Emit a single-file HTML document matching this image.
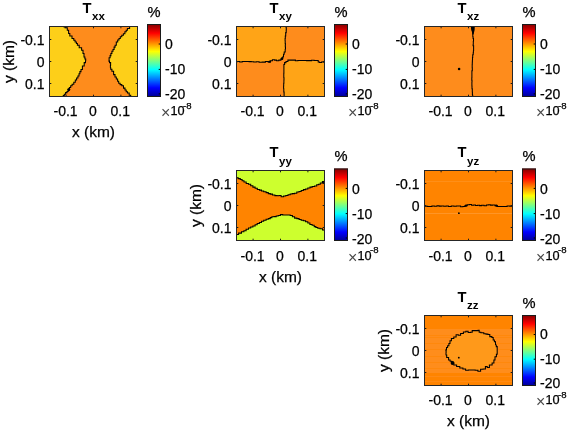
<!DOCTYPE html>
<html><head><meta charset="utf-8"><title>T components</title>
<style>html,body{margin:0;padding:0;background:#fff}body{width:568px;height:431px;position:relative;overflow:hidden}</style>
</head><body>
<svg width="568" height="431" viewBox="0 0 568 431" style="position:absolute;left:0;top:0" font-family="Liberation Sans, Arial, sans-serif"><style>text{stroke:#000;stroke-width:0.25px;paint-order:stroke}text.n{stroke:none}</style><defs><linearGradient id="jet" x1="0" y1="1" x2="0" y2="0"><stop offset="0" stop-color="#00008f"/><stop offset="0.125" stop-color="#0000ff"/><stop offset="0.375" stop-color="#00ffff"/><stop offset="0.625" stop-color="#ffff00"/><stop offset="0.875" stop-color="#ff0000"/><stop offset="1" stop-color="#800000"/></linearGradient></defs><clipPath id="c0"><rect x="49" y="26" width="89" height="71"/></clipPath><g clip-path="url(#c0)"><rect x="49" y="26" width="89" height="71" fill="#fdcf19"/><polygon points="63.6,26.0 63.6,26.0 63.6,26.8 63.6,26.8 65.0,26.8 65.0,27.7 66.5,27.7 67.3,27.7 67.3,30.2 68.2,30.2 68.6,30.2 68.6,33.5 69.0,33.5 69.8,33.5 69.8,36.0 70.7,36.0 72.0,36.0 72.0,38.5 73.2,38.5 73.8,38.5 73.8,40.2 74.4,40.2 75.1,40.2 75.1,41.9 75.7,41.9 76.4,41.9 76.4,43.5 77.0,43.5 77.4,43.5 77.4,45.2 77.8,45.2 79.2,45.2 79.2,47.7 80.7,47.7 81.6,47.7 81.6,50.2 82.4,50.2 83.0,50.2 83.0,53.5 83.6,53.5 84.0,53.5 84.0,56.9 84.5,56.9 84.9,56.9 84.9,59.0 85.3,59.0 85.7,59.0 85.7,61.0 86.1,61.0 85.5,61.0 85.5,62.6 85.0,62.6 84.2,62.6 84.2,66.0 83.3,66.0 82.4,66.0 82.4,69.4 81.6,69.4 81.0,69.4 81.0,71.6 80.4,71.6 79.9,71.6 79.9,73.7 79.5,73.7 79.0,73.7 79.0,76.0 78.5,76.0 77.9,76.0 77.9,78.0 77.3,78.0 76.6,78.0 76.6,80.0 75.8,80.0 75.3,80.0 75.3,82.3 74.8,82.3 73.8,82.3 73.8,84.2 72.8,84.2 72.1,84.2 72.1,85.8 71.3,85.8 70.7,85.8 70.7,87.4 70.1,87.4 69.4,87.4 69.4,89.6 68.7,89.6 68.2,89.6 68.2,91.4 67.7,91.4 67.0,91.4 67.0,92.6 66.2,92.6 65.6,92.6 65.6,94.2 65.0,94.2 64.3,94.2 64.3,95.6 63.6,95.6 63.3,95.6 63.3,97.0 63.0,97.0 131.0,97.0 130.7,97.0 130.7,95.2 130.3,95.2 129.2,95.2 129.2,93.0 128.2,93.0 127.5,93.0 127.5,91.7 126.8,91.7 126.2,91.7 126.2,90.0 125.6,90.0 125.0,90.0 125.0,88.1 124.4,88.1 123.5,88.1 123.5,85.8 122.6,85.8 121.8,85.8 121.8,84.6 121.1,84.6 120.1,84.6 120.1,83.2 119.2,83.2 118.7,83.2 118.7,81.2 118.3,81.2 117.6,81.2 117.6,78.9 117.0,78.9 116.3,78.9 116.3,77.0 115.5,77.0 115.0,77.0 115.0,74.6 114.5,74.6 113.6,74.6 113.6,71.2 112.7,71.2 111.9,71.2 111.9,69.3 111.2,69.3 110.7,69.3 110.7,67.7 110.2,67.7 110.4,67.7 110.4,65.2 110.6,65.2 110.6,65.2 110.6,62.6 110.6,62.6 109.5,62.6 109.5,61.1 108.4,61.1 109.1,61.1 109.1,57.7 109.7,57.7 110.1,57.7 110.1,55.6 110.4,55.6 110.9,55.6 110.9,53.5 111.4,53.5 111.9,53.5 111.9,51.3 112.5,51.3 113.0,51.3 113.0,49.4 113.5,49.4 114.1,49.4 114.1,47.1 114.6,47.1 115.1,47.1 115.1,45.2 115.5,45.2 116.3,45.2 116.3,41.9 117.2,41.9 117.7,41.9 117.7,40.0 118.2,40.0 119.0,40.0 119.0,38.5 119.7,38.5 120.3,38.5 120.3,36.7 121.0,36.7 121.8,36.7 121.8,35.2 122.6,35.2 123.4,35.2 123.4,33.7 124.2,33.7 124.9,33.7 124.9,31.8 125.6,31.8 126.2,31.8 126.2,30.3 126.7,30.3 127.4,30.3 127.4,28.5 128.1,28.5 129.6,28.5 129.6,26.4 131.0,26.4 131.2,26.4 131.2,26.0 131.5,26.0" fill="#fe8c1c"/><polyline points="63.6,26.0 63.6,26.0 63.6,26.8 63.6,26.8 65.0,26.8 65.0,27.7 66.5,27.7 67.3,27.7 67.3,30.2 68.2,30.2 68.6,30.2 68.6,33.5 69.0,33.5 69.8,33.5 69.8,36.0 70.7,36.0 72.0,36.0 72.0,38.5 73.2,38.5 73.8,38.5 73.8,40.2 74.4,40.2 75.1,40.2 75.1,41.9 75.7,41.9 76.4,41.9 76.4,43.5 77.0,43.5 77.4,43.5 77.4,45.2 77.8,45.2 79.2,45.2 79.2,47.7 80.7,47.7 81.6,47.7 81.6,50.2 82.4,50.2 83.0,50.2 83.0,53.5 83.6,53.5 84.0,53.5 84.0,56.9 84.5,56.9 84.9,56.9 84.9,59.0 85.3,59.0 85.7,59.0 85.7,61.0 86.1,61.0 85.5,61.0 85.5,62.6 85.0,62.6 84.2,62.6 84.2,66.0 83.3,66.0 82.4,66.0 82.4,69.4 81.6,69.4 81.0,69.4 81.0,71.6 80.4,71.6 79.9,71.6 79.9,73.7 79.5,73.7 79.0,73.7 79.0,76.0 78.5,76.0 77.9,76.0 77.9,78.0 77.3,78.0 76.6,78.0 76.6,80.0 75.8,80.0 75.3,80.0 75.3,82.3 74.8,82.3 73.8,82.3 73.8,84.2 72.8,84.2 72.1,84.2 72.1,85.8 71.3,85.8 70.7,85.8 70.7,87.4 70.1,87.4 69.4,87.4 69.4,89.6 68.7,89.6 68.2,89.6 68.2,91.4 67.7,91.4 67.0,91.4 67.0,92.6 66.2,92.6 65.6,92.6 65.6,94.2 65.0,94.2 64.3,94.2 64.3,95.6 63.6,95.6 63.3,95.6 63.3,97.0 63.0,97.0" fill="none" stroke="#000" stroke-width="1.05" stroke-linejoin="miter"/><polyline points="131.5,26.0 131.2,26.0 131.2,26.4 131.0,26.4 129.6,26.4 129.6,28.5 128.1,28.5 127.4,28.5 127.4,30.3 126.7,30.3 126.2,30.3 126.2,31.8 125.6,31.8 124.9,31.8 124.9,33.7 124.2,33.7 123.4,33.7 123.4,35.2 122.6,35.2 121.8,35.2 121.8,36.7 121.0,36.7 120.3,36.7 120.3,38.5 119.7,38.5 119.0,38.5 119.0,40.0 118.2,40.0 117.7,40.0 117.7,41.9 117.2,41.9 116.3,41.9 116.3,45.2 115.5,45.2 115.1,45.2 115.1,47.1 114.6,47.1 114.1,47.1 114.1,49.4 113.5,49.4 113.0,49.4 113.0,51.3 112.5,51.3 111.9,51.3 111.9,53.5 111.4,53.5 110.9,53.5 110.9,55.6 110.4,55.6 110.1,55.6 110.1,57.7 109.7,57.7 109.1,57.7 109.1,61.1 108.4,61.1 109.5,61.1 109.5,62.6 110.6,62.6 110.6,62.6 110.6,65.2 110.6,65.2 110.4,65.2 110.4,67.7 110.2,67.7 110.7,67.7 110.7,69.3 111.2,69.3 111.9,69.3 111.9,71.2 112.7,71.2 113.6,71.2 113.6,74.6 114.5,74.6 115.0,74.6 115.0,77.0 115.5,77.0 116.3,77.0 116.3,78.9 117.0,78.9 117.6,78.9 117.6,81.2 118.3,81.2 118.7,81.2 118.7,83.2 119.2,83.2 120.1,83.2 120.1,84.6 121.1,84.6 121.8,84.6 121.8,85.8 122.6,85.8 123.5,85.8 123.5,88.1 124.4,88.1 125.0,88.1 125.0,90.0 125.6,90.0 126.2,90.0 126.2,91.7 126.8,91.7 127.5,91.7 127.5,93.0 128.2,93.0 129.2,93.0 129.2,95.2 130.3,95.2 130.7,95.2 130.7,97.0 131.0,97.0" fill="none" stroke="#000" stroke-width="1.05" stroke-linejoin="miter"/><circle cx="68.8" cy="89.5" r="1.5" fill="#000"/></g><rect x="49.5" y="26.5" width="88" height="70" fill="none" stroke="#262626" stroke-width="1"/><path d="M66.1,27v1.3M66.1,96v-1.3M93.5,27v1.3M93.5,96v-1.3M120.9,27v1.3M120.9,96v-1.3M50,39.5h1.3M137,39.5h-1.3M50,61.5h1.3M137,61.5h-1.3M50,83.5h1.3M137,83.5h-1.3" stroke="#1a1a1a" stroke-width="1" fill="none"/><text x="44.55" y="44.75" font-size="14" fill="#000" text-anchor="end">-0.1</text><text x="44.55" y="66.75" font-size="14" fill="#000" text-anchor="end">0</text><text x="44.55" y="88.75" font-size="14" fill="#000" text-anchor="end">0.1</text><text x="65.6" y="116.0" font-size="14" fill="#000" text-anchor="middle">-0.1</text><text x="93.0" y="116.0" font-size="14" fill="#000" text-anchor="middle">0</text><text x="120.3" y="116.0" font-size="14" fill="#000" text-anchor="middle">0.1</text><text x="82.5" y="12.7" font-size="14.67" font-weight="bold" fill="#000" class="n">T</text><text x="92.0" y="20.4" font-size="11.5" font-weight="bold" fill="#000" class="n">xx</text><text x="93.5" y="137.1" font-size="15.5" fill="#000" text-anchor="middle">x (km)</text><text x="0" y="0" transform="translate(13.9,61.5) rotate(-90)" font-size="15.5" fill="#000" text-anchor="middle">y (km)</text><rect x="147" y="24" width="14" height="73" fill="url(#jet)"/><rect x="147.5" y="24.5" width="13" height="72" fill="none" stroke="#1a1a1a" stroke-width="1"/><path d="M160,44.0h-1.3M160,69.4h-1.3M160,93.9h-1.3" stroke="#000" stroke-width="1"/><text x="165.0" y="48.8" font-size="14" fill="#000">0</text><text x="165.0" y="74.2" font-size="14" fill="#000">-10</text><text x="165.0" y="98.7" font-size="14" fill="#000">-20</text><text x="154.0" y="16.7" font-size="14.67" fill="#000" text-anchor="middle">%</text><text x="161.0" y="117.8" font-size="16" fill="#4a4a4a" class="n">×</text><text x="170.5" y="115.0" font-size="12.7" fill="#000">10</text><text x="183.1" y="108.6" font-size="9.6" fill="#000">-8</text><clipPath id="c1"><rect x="236" y="26" width="89" height="71"/></clipPath><g clip-path="url(#c1)"><rect x="236" y="26" width="89" height="71" fill="#fe8c1c"/><polygon points="236.0,26.0 236.0,61.6 237.2,61.6 237.2,61.5 238.4,61.5 239.7,61.5 239.7,62.0 241.0,62.0 242.2,62.0 242.2,61.5 243.5,61.5 244.6,61.5 244.6,61.5 245.8,61.5 246.9,61.5 246.9,61.4 248.1,61.4 249.1,61.4 249.1,61.6 250.1,61.6 251.2,61.6 251.2,61.7 252.4,61.7 253.7,61.7 253.7,62.0 255.1,62.0 256.3,62.0 256.3,61.7 257.6,61.7 259.1,61.7 259.1,62.3 260.7,62.3 262.2,62.3 262.2,62.1 263.6,62.1 265.4,62.1 265.4,61.5 267.1,61.5 268.1,61.5 268.1,61.9 269.2,61.9 270.2,61.9 270.2,60.8 271.3,60.8 272.4,60.8 272.4,59.8 273.5,59.8 274.6,59.8 274.6,60.1 275.6,60.1 276.6,60.1 276.6,60.8 277.7,60.8 278.8,60.8 278.8,60.1 279.8,60.1 280.9,60.1 280.9,59.1 281.9,59.1 282.6,59.1 282.6,57.0 283.3,57.0 283.5,57.0 283.5,54.2 283.7,54.2 284.2,54.2 284.2,52.0 284.7,52.0 285.2,52.0 285.2,49.2 285.8,49.2 285.5,49.2 285.5,46.9 285.3,46.9 285.3,46.9 285.3,45.0 285.4,45.0 285.4,45.0 285.4,43.4 285.3,43.4 285.2,43.4 285.2,41.0 285.0,41.0 285.1,41.0 285.1,38.4 285.2,38.4 285.3,38.4 285.3,36.0 285.3,36.0 285.7,36.0 285.7,32.6 286.1,32.6 286.2,32.6 286.2,30.0 286.2,30.0 286.3,30.0 286.3,27.8 286.3,27.8 286.1,27.8 286.1,26.0 285.9,26.0" fill="#ffa417"/><polygon points="325.0,62.2 323.9,62.2 323.9,62.0 322.8,62.0 321.5,62.0 321.5,62.4 320.3,62.4 319.4,62.4 319.4,62.0 318.4,62.0 318.2,62.0 318.2,60.4 318.1,60.4 316.6,60.4 316.6,60.5 315.0,60.5 314.1,60.5 314.1,60.2 313.1,60.2 311.6,60.2 311.6,60.6 310.1,60.6 309.0,60.6 309.0,60.6 307.9,60.6 306.6,60.6 306.6,60.4 305.3,60.4 304.3,60.4 304.3,60.4 303.4,60.4 302.4,60.4 302.4,60.5 301.3,60.5 300.2,60.5 300.2,60.4 299.1,60.4 297.9,60.4 297.9,60.8 296.7,60.8 295.4,60.8 295.4,60.1 294.0,60.1 292.9,60.1 292.9,60.1 291.8,60.1 290.4,60.1 290.4,60.1 288.9,60.1 287.9,60.1 287.9,61.5 286.8,61.5 286.0,61.5 286.0,62.6 285.1,62.6 284.6,62.6 284.6,64.4 284.0,64.4 283.9,64.4 283.9,67.5 283.7,67.5 283.9,67.5 283.9,71.0 284.0,71.0 283.9,71.0 283.9,73.3 283.9,73.3 283.8,73.3 283.8,75.0 283.7,75.0 283.8,75.0 283.8,77.7 283.9,77.7 284.0,77.7 284.0,80.0 284.0,80.0 283.9,80.0 283.9,83.2 283.8,83.2 283.7,83.2 283.7,86.0 283.7,86.0 283.6,86.0 283.6,88.8 283.5,88.8 283.8,88.8 283.8,92.0 284.0,92.0 284.1,92.0 284.1,94.7 284.1,94.7 284.1,94.7 284.1,97.0 284.0,97.0 325.0,97.0 325.0,62.2" fill="#ffa417"/><polyline points="236.0,61.6 237.2,61.6 237.2,61.5 238.4,61.5 239.7,61.5 239.7,62.0 241.0,62.0 242.2,62.0 242.2,61.5 243.5,61.5 244.6,61.5 244.6,61.5 245.8,61.5 246.9,61.5 246.9,61.4 248.1,61.4 249.1,61.4 249.1,61.6 250.1,61.6 251.2,61.6 251.2,61.7 252.4,61.7 253.7,61.7 253.7,62.0 255.1,62.0 256.3,62.0 256.3,61.7 257.6,61.7 259.1,61.7 259.1,62.3 260.7,62.3 262.2,62.3 262.2,62.1 263.6,62.1 265.4,62.1 265.4,61.5 267.1,61.5 268.1,61.5 268.1,61.9 269.2,61.9 270.2,61.9 270.2,60.8 271.3,60.8 272.4,60.8 272.4,59.8 273.5,59.8 274.6,59.8 274.6,60.1 275.6,60.1 276.6,60.1 276.6,60.8 277.7,60.8 278.8,60.8 278.8,60.1 279.8,60.1 280.9,60.1 280.9,59.1 281.9,59.1 282.6,59.1 282.6,57.0 283.3,57.0 283.5,57.0 283.5,54.2 283.7,54.2 284.2,54.2 284.2,52.0 284.7,52.0 285.2,52.0 285.2,49.2 285.8,49.2 285.5,49.2 285.5,46.9 285.3,46.9 285.3,46.9 285.3,45.0 285.4,45.0 285.4,45.0 285.4,43.4 285.3,43.4 285.2,43.4 285.2,41.0 285.0,41.0 285.1,41.0 285.1,38.4 285.2,38.4 285.3,38.4 285.3,36.0 285.3,36.0 285.7,36.0 285.7,32.6 286.1,32.6 286.2,32.6 286.2,30.0 286.2,30.0 286.3,30.0 286.3,27.8 286.3,27.8 286.1,27.8 286.1,26.0 285.9,26.0" fill="none" stroke="#000" stroke-width="1.05" stroke-linejoin="miter"/><polyline points="325.0,62.2 323.9,62.2 323.9,62.0 322.8,62.0 321.5,62.0 321.5,62.4 320.3,62.4 319.4,62.4 319.4,62.0 318.4,62.0 318.2,62.0 318.2,60.4 318.1,60.4 316.6,60.4 316.6,60.5 315.0,60.5 314.1,60.5 314.1,60.2 313.1,60.2 311.6,60.2 311.6,60.6 310.1,60.6 309.0,60.6 309.0,60.6 307.9,60.6 306.6,60.6 306.6,60.4 305.3,60.4 304.3,60.4 304.3,60.4 303.4,60.4 302.4,60.4 302.4,60.5 301.3,60.5 300.2,60.5 300.2,60.4 299.1,60.4 297.9,60.4 297.9,60.8 296.7,60.8 295.4,60.8 295.4,60.1 294.0,60.1 292.9,60.1 292.9,60.1 291.8,60.1 290.4,60.1 290.4,60.1 288.9,60.1 287.9,60.1 287.9,61.5 286.8,61.5 286.0,61.5 286.0,62.6 285.1,62.6 284.6,62.6 284.6,64.4 284.0,64.4 283.9,64.4 283.9,67.5 283.7,67.5 283.9,67.5 283.9,71.0 284.0,71.0 283.9,71.0 283.9,73.3 283.9,73.3 283.8,73.3 283.8,75.0 283.7,75.0 283.8,75.0 283.8,77.7 283.9,77.7 284.0,77.7 284.0,80.0 284.0,80.0 283.9,80.0 283.9,83.2 283.8,83.2 283.7,83.2 283.7,86.0 283.7,86.0 283.6,86.0 283.6,88.8 283.5,88.8 283.8,88.8 283.8,92.0 284.0,92.0 284.1,92.0 284.1,94.7 284.1,94.7 284.1,94.7 284.1,97.0 284.0,97.0" fill="none" stroke="#000" stroke-width="1.05" stroke-linejoin="miter"/><ellipse cx="269.6" cy="61.8" rx="1.6" ry="1" fill="#000"/><ellipse cx="282" cy="58.6" rx="1.2" ry="1.3" fill="#000"/></g><rect x="236.5" y="26.5" width="88" height="70" fill="none" stroke="#262626" stroke-width="1"/><path d="M253.1,27v1.3M253.1,96v-1.3M280.5,27v1.3M280.5,96v-1.3M307.9,27v1.3M307.9,96v-1.3M237,39.5h1.3M324,39.5h-1.3M237,61.5h1.3M324,61.5h-1.3M237,83.5h1.3M324,83.5h-1.3" stroke="#1a1a1a" stroke-width="1" fill="none"/><text x="231.55" y="44.75" font-size="14" fill="#000" text-anchor="end">-0.1</text><text x="231.55" y="66.75" font-size="14" fill="#000" text-anchor="end">0</text><text x="231.55" y="88.75" font-size="14" fill="#000" text-anchor="end">0.1</text><text x="252.6" y="116.0" font-size="14" fill="#000" text-anchor="middle">-0.1</text><text x="280.0" y="116.0" font-size="14" fill="#000" text-anchor="middle">0</text><text x="307.3" y="116.0" font-size="14" fill="#000" text-anchor="middle">0.1</text><text x="269.5" y="12.7" font-size="14.67" font-weight="bold" fill="#000" class="n">T</text><text x="279.0" y="20.4" font-size="11.5" font-weight="bold" fill="#000" class="n">xy</text><rect x="334" y="24" width="14" height="73" fill="url(#jet)"/><rect x="334.5" y="24.5" width="13" height="72" fill="none" stroke="#1a1a1a" stroke-width="1"/><path d="M347,44.0h-1.3M347,69.4h-1.3M347,93.9h-1.3" stroke="#000" stroke-width="1"/><text x="352.0" y="48.8" font-size="14" fill="#000">0</text><text x="352.0" y="74.2" font-size="14" fill="#000">-10</text><text x="352.0" y="98.7" font-size="14" fill="#000">-20</text><text x="341.0" y="16.7" font-size="14.67" fill="#000" text-anchor="middle">%</text><text x="348.0" y="117.8" font-size="16" fill="#4a4a4a" class="n">×</text><text x="357.5" y="115.0" font-size="12.7" fill="#000">10</text><text x="370.1" y="108.6" font-size="9.6" fill="#000">-8</text><clipPath id="c2"><rect x="424" y="26" width="89" height="71"/></clipPath><g clip-path="url(#c2)"><rect x="424" y="26" width="89" height="71" fill="#fe8c1c"/><polyline points="472.9,26.0 472.7,26.0 472.7,29.1 472.6,29.1 472.7,29.1 472.7,32.0 472.9,32.0 472.8,32.0 472.8,34.0 472.7,34.0 472.8,34.0 472.8,36.7 472.8,36.7 473.1,36.7 473.1,38.5 473.5,38.5 473.5,38.5 473.5,41.6 473.6,41.6 473.3,41.6 473.3,44.2 472.9,44.2 473.1,44.2 473.1,45.7 473.2,45.7 473.6,45.7 473.6,48.2 474.0,48.2 473.6,48.2 473.6,50.4 473.3,50.4 473.4,50.4 473.4,52.7 473.4,52.7 473.2,52.7 473.2,54.7 472.9,54.7 472.7,54.7 472.7,57.5 472.5,57.5 472.5,57.5 472.5,60.2 472.6,60.2 472.4,60.2 472.4,62.0 472.3,62.0 472.3,62.0 472.3,64.3 472.3,64.3 472.2,64.3 472.2,66.0 472.2,66.0 472.2,66.0 472.2,67.8 472.3,67.8 472.3,67.8 472.3,70.7 472.3,70.7 471.9,70.7 471.9,72.4 471.6,72.4 471.9,72.4 471.9,75.2 472.2,75.2 471.9,75.2 471.9,77.6 471.6,77.6 471.8,77.6 471.8,80.2 472.0,80.2 472.0,80.2 472.0,82.3 472.1,82.3 471.9,82.3 471.9,84.3 471.8,84.3 471.9,84.3 471.9,86.0 472.0,86.0 472.0,86.0 472.0,88.7 472.0,88.7 472.3,88.7 472.3,89.9 472.7,89.9 472.3,89.9 472.3,92.3 471.9,92.3 472.4,92.3 472.4,94.7 473.0,94.7 472.7,94.7 472.7,97.0 472.5,97.0" fill="none" stroke="#000" stroke-width="1.05" stroke-linejoin="miter"/><polygon points="470.8,26 474.8,26 474.6,30 474,32.5 473.6,34.5 472.4,34.5 472,32 471.2,30" fill="#000"/><circle cx="459.1" cy="69" r="1.3" fill="#000"/></g><rect x="424.5" y="26.5" width="88" height="70" fill="none" stroke="#262626" stroke-width="1"/><path d="M441.1,27v1.3M441.1,96v-1.3M468.5,27v1.3M468.5,96v-1.3M495.9,27v1.3M495.9,96v-1.3M425,39.5h1.3M512,39.5h-1.3M425,61.5h1.3M512,61.5h-1.3M425,83.5h1.3M512,83.5h-1.3" stroke="#1a1a1a" stroke-width="1" fill="none"/><text x="419.55" y="44.75" font-size="14" fill="#000" text-anchor="end">-0.1</text><text x="419.55" y="66.75" font-size="14" fill="#000" text-anchor="end">0</text><text x="419.55" y="88.75" font-size="14" fill="#000" text-anchor="end">0.1</text><text x="440.6" y="116.0" font-size="14" fill="#000" text-anchor="middle">-0.1</text><text x="468.0" y="116.0" font-size="14" fill="#000" text-anchor="middle">0</text><text x="495.3" y="116.0" font-size="14" fill="#000" text-anchor="middle">0.1</text><text x="457.5" y="12.7" font-size="14.67" font-weight="bold" fill="#000" class="n">T</text><text x="467.0" y="20.4" font-size="11.5" font-weight="bold" fill="#000" class="n">xz</text><rect x="522" y="24" width="14" height="73" fill="url(#jet)"/><rect x="522.5" y="24.5" width="13" height="72" fill="none" stroke="#1a1a1a" stroke-width="1"/><path d="M535,44.0h-1.3M535,69.4h-1.3M535,93.9h-1.3" stroke="#000" stroke-width="1"/><text x="540.0" y="48.8" font-size="14" fill="#000">0</text><text x="540.0" y="74.2" font-size="14" fill="#000">-10</text><text x="540.0" y="98.7" font-size="14" fill="#000">-20</text><text x="529.0" y="16.7" font-size="14.67" fill="#000" text-anchor="middle">%</text><text x="536.0" y="117.8" font-size="16" fill="#4a4a4a" class="n">×</text><text x="545.5" y="115.0" font-size="12.7" fill="#000">10</text><text x="558.1" y="108.6" font-size="9.6" fill="#000">-8</text><clipPath id="c3"><rect x="236" y="170" width="89" height="71"/></clipPath><g clip-path="url(#c3)"><rect x="236" y="170" width="89" height="71" fill="#cdff2e"/><polygon points="236.0,177.5 236.6,177.5 236.6,177.7 237.1,177.7 238.2,177.7 238.2,178.6 239.3,178.6 240.3,178.6 240.3,179.4 241.3,179.4 242.1,179.4 242.1,180.8 242.8,180.8 244.0,180.8 244.0,181.9 245.1,181.9 246.2,181.9 246.2,183.4 247.2,183.4 248.5,183.4 248.5,184.3 249.7,184.3 250.7,184.3 250.7,185.7 251.7,185.7 252.9,185.7 252.9,187.1 254.1,187.1 255.1,187.1 255.1,188.3 256.1,188.3 257.3,188.3 257.3,189.5 258.5,189.5 259.5,189.5 259.5,190.1 260.5,190.1 261.5,190.1 261.5,190.9 262.5,190.9 263.7,190.9 263.7,191.8 264.9,191.8 266.1,191.8 266.1,192.6 267.2,192.6 268.3,192.6 268.3,193.6 269.3,193.6 270.3,193.6 270.3,194.1 271.4,194.1 272.5,194.1 272.5,194.9 273.7,194.9 274.9,194.9 274.9,195.6 276.1,195.6 277.1,195.6 277.1,195.8 278.1,195.8 279.0,195.8 279.0,195.4 279.9,195.4 281.1,195.4 281.1,196.7 282.4,196.7 283.6,196.7 283.6,195.9 284.8,195.9 285.8,195.9 285.8,195.4 286.8,195.4 288.0,195.4 288.0,194.7 289.3,194.7 290.2,194.7 290.2,194.0 291.2,194.0 292.2,194.0 292.2,193.6 293.3,193.6 294.5,193.6 294.5,193.2 295.7,193.2 296.8,193.2 296.8,192.0 297.9,192.0 299.0,192.0 299.0,191.4 300.1,191.4 301.2,191.4 301.2,190.4 302.3,190.4 303.4,190.4 303.4,189.6 304.5,189.6 305.6,189.6 305.6,189.0 306.7,189.0 307.8,189.0 307.8,187.9 308.9,187.9 310.0,187.9 310.0,187.1 311.2,187.1 312.2,187.1 312.2,186.5 313.3,186.5 314.5,186.5 314.5,185.9 315.7,185.9 316.7,185.9 316.7,184.8 317.7,184.8 318.6,184.8 318.6,184.2 319.4,184.2 320.3,184.2 320.3,183.0 321.2,183.0 322.5,183.0 322.5,181.7 323.9,181.7 324.4,181.7 324.4,181.2 325.0,181.2 325.0,230.5 324.4,230.5 324.4,230.0 323.9,230.0 322.5,230.0 322.5,228.7 321.2,228.7 320.0,228.7 320.0,228.2 318.8,228.2 317.8,228.2 317.8,227.4 316.8,227.4 315.9,227.4 315.9,226.6 315.0,226.6 314.2,226.6 314.2,225.2 313.3,225.2 312.1,225.2 312.1,224.4 310.8,224.4 309.9,224.4 309.9,223.0 308.9,223.0 307.8,223.0 307.8,221.8 306.8,221.8 305.6,221.8 305.6,220.8 304.5,220.8 303.4,220.8 303.4,220.3 302.3,220.3 301.2,220.3 301.2,219.4 300.1,219.4 299.1,219.4 299.1,218.6 298.2,218.6 296.9,218.6 296.9,218.1 295.7,218.1 294.6,218.1 294.6,216.8 293.6,216.8 292.4,216.8 292.4,215.5 291.2,215.5 290.2,215.5 290.2,215.0 289.2,215.0 288.0,215.0 288.0,215.0 286.8,215.0 285.3,215.0 285.3,215.0 283.9,215.0 282.7,215.0 282.7,214.6 281.5,214.6 280.4,214.6 280.4,215.5 279.3,215.5 278.2,215.5 278.2,215.9 277.2,215.9 276.2,215.9 276.2,216.6 275.2,216.6 274.0,216.6 274.0,216.8 272.8,216.8 271.9,216.8 271.9,217.6 271.1,217.6 270.2,217.6 270.2,218.6 269.3,218.6 268.3,218.6 268.3,219.3 267.2,219.3 266.1,219.3 266.1,220.3 264.9,220.3 263.7,220.3 263.7,221.3 262.4,221.3 261.5,221.3 261.5,222.5 260.5,222.5 259.4,222.5 259.4,223.4 258.4,223.4 257.2,223.4 257.2,224.7 256.1,224.7 255.1,224.7 255.1,225.9 254.1,225.9 252.9,225.9 252.9,226.9 251.7,226.9 250.7,226.9 250.7,227.9 249.7,227.9 248.5,227.9 248.5,229.2 247.2,229.2 246.1,229.2 246.1,230.7 245.0,230.7 243.9,230.7 243.9,231.8 242.8,231.8 241.5,231.8 241.5,233.1 240.2,233.1 238.6,233.1 238.6,234.4 237.1,234.4 236.6,234.4 236.6,234.6 236.0,234.6" fill="#ff8400"/><polyline points="236.0,177.5 236.6,177.5 236.6,177.7 237.1,177.7 238.2,177.7 238.2,178.6 239.3,178.6 240.3,178.6 240.3,179.4 241.3,179.4 242.1,179.4 242.1,180.8 242.8,180.8 244.0,180.8 244.0,181.9 245.1,181.9 246.2,181.9 246.2,183.4 247.2,183.4 248.5,183.4 248.5,184.3 249.7,184.3 250.7,184.3 250.7,185.7 251.7,185.7 252.9,185.7 252.9,187.1 254.1,187.1 255.1,187.1 255.1,188.3 256.1,188.3 257.3,188.3 257.3,189.5 258.5,189.5 259.5,189.5 259.5,190.1 260.5,190.1 261.5,190.1 261.5,190.9 262.5,190.9 263.7,190.9 263.7,191.8 264.9,191.8 266.1,191.8 266.1,192.6 267.2,192.6 268.3,192.6 268.3,193.6 269.3,193.6 270.3,193.6 270.3,194.1 271.4,194.1 272.5,194.1 272.5,194.9 273.7,194.9 274.9,194.9 274.9,195.6 276.1,195.6 277.1,195.6 277.1,195.8 278.1,195.8 279.0,195.8 279.0,195.4 279.9,195.4 281.1,195.4 281.1,196.7 282.4,196.7 283.6,196.7 283.6,195.9 284.8,195.9 285.8,195.9 285.8,195.4 286.8,195.4 288.0,195.4 288.0,194.7 289.3,194.7 290.2,194.7 290.2,194.0 291.2,194.0 292.2,194.0 292.2,193.6 293.3,193.6 294.5,193.6 294.5,193.2 295.7,193.2 296.8,193.2 296.8,192.0 297.9,192.0 299.0,192.0 299.0,191.4 300.1,191.4 301.2,191.4 301.2,190.4 302.3,190.4 303.4,190.4 303.4,189.6 304.5,189.6 305.6,189.6 305.6,189.0 306.7,189.0 307.8,189.0 307.8,187.9 308.9,187.9 310.0,187.9 310.0,187.1 311.2,187.1 312.2,187.1 312.2,186.5 313.3,186.5 314.5,186.5 314.5,185.9 315.7,185.9 316.7,185.9 316.7,184.8 317.7,184.8 318.6,184.8 318.6,184.2 319.4,184.2 320.3,184.2 320.3,183.0 321.2,183.0 322.5,183.0 322.5,181.7 323.9,181.7 324.4,181.7 324.4,181.2 325.0,181.2" fill="none" stroke="#000" stroke-width="1.05" stroke-linejoin="miter"/><polyline points="236.0,234.6 236.6,234.6 236.6,234.4 237.1,234.4 238.6,234.4 238.6,233.1 240.2,233.1 241.5,233.1 241.5,231.8 242.8,231.8 243.9,231.8 243.9,230.7 245.0,230.7 246.1,230.7 246.1,229.2 247.2,229.2 248.5,229.2 248.5,227.9 249.7,227.9 250.7,227.9 250.7,226.9 251.7,226.9 252.9,226.9 252.9,225.9 254.1,225.9 255.1,225.9 255.1,224.7 256.1,224.7 257.2,224.7 257.2,223.4 258.4,223.4 259.4,223.4 259.4,222.5 260.5,222.5 261.5,222.5 261.5,221.3 262.4,221.3 263.7,221.3 263.7,220.3 264.9,220.3 266.1,220.3 266.1,219.3 267.2,219.3 268.3,219.3 268.3,218.6 269.3,218.6 270.2,218.6 270.2,217.6 271.1,217.6 271.9,217.6 271.9,216.8 272.8,216.8 274.0,216.8 274.0,216.6 275.2,216.6 276.2,216.6 276.2,215.9 277.2,215.9 278.2,215.9 278.2,215.5 279.3,215.5 280.4,215.5 280.4,214.6 281.5,214.6 282.7,214.6 282.7,215.0 283.9,215.0 285.3,215.0 285.3,215.0 286.8,215.0 288.0,215.0 288.0,215.0 289.2,215.0 290.2,215.0 290.2,215.5 291.2,215.5 292.4,215.5 292.4,216.8 293.6,216.8 294.6,216.8 294.6,218.1 295.7,218.1 296.9,218.1 296.9,218.6 298.2,218.6 299.1,218.6 299.1,219.4 300.1,219.4 301.2,219.4 301.2,220.3 302.3,220.3 303.4,220.3 303.4,220.8 304.5,220.8 305.6,220.8 305.6,221.8 306.8,221.8 307.8,221.8 307.8,223.0 308.9,223.0 309.9,223.0 309.9,224.4 310.8,224.4 312.1,224.4 312.1,225.2 313.3,225.2 314.2,225.2 314.2,226.6 315.0,226.6 315.9,226.6 315.9,227.4 316.8,227.4 317.8,227.4 317.8,228.2 318.8,228.2 320.0,228.2 320.0,228.7 321.2,228.7 322.5,228.7 322.5,230.0 323.9,230.0 324.4,230.0 324.4,230.5 325.0,230.5" fill="none" stroke="#000" stroke-width="1.05" stroke-linejoin="miter"/><ellipse cx="323" cy="182" rx="1.3" ry="1" fill="#000"/></g><rect x="236.5" y="170.5" width="88" height="70" fill="none" stroke="#262626" stroke-width="1"/><path d="M253.1,171v1.3M253.1,240v-1.3M280.5,171v1.3M280.5,240v-1.3M307.9,171v1.3M307.9,240v-1.3M237,183.5h1.3M324,183.5h-1.3M237,205.5h1.3M324,205.5h-1.3M237,227.5h1.3M324,227.5h-1.3" stroke="#1a1a1a" stroke-width="1" fill="none"/><text x="231.55" y="189.45" font-size="14" fill="#000" text-anchor="end">-0.1</text><text x="231.55" y="211.45" font-size="14" fill="#000" text-anchor="end">0</text><text x="231.55" y="233.45" font-size="14" fill="#000" text-anchor="end">0.1</text><text x="252.6" y="260.7" font-size="14" fill="#000" text-anchor="middle">-0.1</text><text x="280.0" y="260.7" font-size="14" fill="#000" text-anchor="middle">0</text><text x="307.3" y="260.7" font-size="14" fill="#000" text-anchor="middle">0.1</text><text x="269.5" y="156.7" font-size="14.67" font-weight="bold" fill="#000" class="n">T</text><text x="279.0" y="165.1" font-size="11.5" font-weight="bold" fill="#000" class="n">yy</text><text x="280.5" y="281.8" font-size="15.5" fill="#000" text-anchor="middle">x (km)</text><text x="0" y="0" transform="translate(200.9,205.5) rotate(-90)" font-size="15.5" fill="#000" text-anchor="middle">y (km)</text><rect x="334" y="168.5" width="14" height="72.5" fill="url(#jet)"/><rect x="334.5" y="169.0" width="13" height="71.5" fill="none" stroke="#1a1a1a" stroke-width="1"/><path d="M347,188.4h-1.3M347,213.6h-1.3M347,238.0h-1.3" stroke="#000" stroke-width="1"/><text x="352.0" y="193.9" font-size="14" fill="#000">0</text><text x="352.0" y="219.1" font-size="14" fill="#000">-10</text><text x="352.0" y="243.5" font-size="14" fill="#000">-20</text><text x="341.0" y="161.2" font-size="14.67" fill="#000" text-anchor="middle">%</text><text x="348.0" y="262.5" font-size="16" fill="#4a4a4a" class="n">×</text><text x="357.5" y="259.7" font-size="12.7" fill="#000">10</text><text x="370.1" y="253.3" font-size="9.6" fill="#000">-8</text><clipPath id="c4"><rect x="424" y="170" width="89" height="71"/></clipPath><g clip-path="url(#c4)"><rect x="424" y="170" width="89" height="71" fill="#ff8400"/><rect x="424" y="213" width="89" height="1" fill="#ff9a30" opacity="0.8"/><rect x="424" y="181" width="89" height="1" fill="#ff9a30" opacity="0.5"/><polyline points="424.0,206.0 425.2,206.0 425.2,206.2 426.4,206.2 427.6,206.2 427.6,206.4 428.8,206.4 430.0,206.4 430.0,206.4 431.1,206.4 431.9,206.4 431.9,206.0 432.7,206.0 434.3,206.0 434.3,206.2 435.8,206.2 437.0,206.2 437.0,205.7 438.1,205.7 439.0,205.7 439.0,206.1 440.0,206.1 441.2,206.1 441.2,205.9 442.5,205.9 443.8,205.9 443.8,206.2 445.0,206.2 446.1,206.2 446.1,205.9 447.1,205.9 448.4,205.9 448.4,206.5 449.8,206.5 451.3,206.5 451.3,205.9 452.7,205.9 453.9,205.9 453.9,206.2 455.0,206.2 456.3,206.2 456.3,205.9 457.6,205.9 458.7,205.9 458.7,206.0 459.8,206.0 460.6,206.0 460.6,206.7 461.5,206.7 462.9,206.7 462.9,206.4 464.3,206.4 465.1,206.4 465.1,205.6 466.0,205.6 467.2,205.6 467.2,204.7 468.5,204.7 469.4,204.7 469.4,204.5 470.2,204.5 471.6,204.5 471.6,205.2 472.9,205.2 473.7,205.2 473.7,205.0 474.5,205.0 475.5,205.0 475.5,205.5 476.4,205.5 477.6,205.5 477.6,205.3 478.7,205.3 479.6,205.3 479.6,205.6 480.5,205.6 481.7,205.6 481.7,205.3 482.9,205.3 484.0,205.3 484.0,205.7 485.2,205.7 486.4,205.7 486.4,205.0 487.5,205.0 488.3,205.0 488.3,204.8 489.2,204.8 490.3,204.8 490.3,205.1 491.4,205.1 492.5,205.1 492.5,205.0 493.6,205.0 495.0,205.0 495.0,205.6 496.4,205.6 497.2,205.6 497.2,206.4 498.1,206.4 499.5,206.4 499.5,206.5 500.9,206.5 502.4,206.5 502.4,206.4 504.0,206.4 504.9,206.4 504.9,206.5 505.8,206.5 507.1,206.5 507.1,206.0 508.4,206.0 509.7,206.0 509.7,206.1 511.0,206.1 512.0,206.1 512.0,206.0 513.0,206.0" fill="none" stroke="#000" stroke-width="1.05" stroke-linejoin="miter"/><circle cx="466" cy="205.6" r="1.2" fill="#000"/><circle cx="496.4" cy="205.6" r="1.2" fill="#000"/><circle cx="458.9" cy="213.2" r="0.9" fill="#000"/></g><rect x="424.5" y="170.5" width="88" height="70" fill="none" stroke="#262626" stroke-width="1"/><path d="M441.1,171v1.3M441.1,240v-1.3M468.5,171v1.3M468.5,240v-1.3M495.9,171v1.3M495.9,240v-1.3M425,183.5h1.3M512,183.5h-1.3M425,205.5h1.3M512,205.5h-1.3M425,227.5h1.3M512,227.5h-1.3" stroke="#1a1a1a" stroke-width="1" fill="none"/><text x="419.55" y="189.45" font-size="14" fill="#000" text-anchor="end">-0.1</text><text x="419.55" y="211.45" font-size="14" fill="#000" text-anchor="end">0</text><text x="419.55" y="233.45" font-size="14" fill="#000" text-anchor="end">0.1</text><text x="440.6" y="260.7" font-size="14" fill="#000" text-anchor="middle">-0.1</text><text x="468.0" y="260.7" font-size="14" fill="#000" text-anchor="middle">0</text><text x="495.3" y="260.7" font-size="14" fill="#000" text-anchor="middle">0.1</text><text x="457.5" y="156.7" font-size="14.67" font-weight="bold" fill="#000" class="n">T</text><text x="467.0" y="165.1" font-size="11.5" font-weight="bold" fill="#000" class="n">yz</text><rect x="522" y="168.5" width="14" height="72.5" fill="url(#jet)"/><rect x="522.5" y="169.0" width="13" height="71.5" fill="none" stroke="#1a1a1a" stroke-width="1"/><path d="M535,188.4h-1.3M535,213.6h-1.3M535,238.0h-1.3" stroke="#000" stroke-width="1"/><text x="540.0" y="193.9" font-size="14" fill="#000">0</text><text x="540.0" y="219.1" font-size="14" fill="#000">-10</text><text x="540.0" y="243.5" font-size="14" fill="#000">-20</text><text x="529.0" y="161.2" font-size="14.67" fill="#000" text-anchor="middle">%</text><text x="536.0" y="262.5" font-size="16" fill="#4a4a4a" class="n">×</text><text x="545.5" y="259.7" font-size="12.7" fill="#000">10</text><text x="558.1" y="253.3" font-size="9.6" fill="#000">-8</text><clipPath id="c5"><rect x="424" y="315" width="89" height="71"/></clipPath><g clip-path="url(#c5)"><rect x="424" y="315" width="89" height="71" fill="#ff8400"/><rect x="424" y="329" width="89" height="44" fill="#ff8d1c"/><rect x="424" y="335" width="89" height="1" fill="#ff8606" opacity="0.7"/><rect x="424" y="337" width="89" height="1" fill="#ff8606" opacity="0.7"/><rect x="424" y="343" width="89" height="1" fill="#ff8606" opacity="0.7"/><rect x="424" y="349" width="89" height="1" fill="#ff8606" opacity="0.7"/><rect x="424" y="356" width="89" height="1" fill="#ff8606" opacity="0.7"/><rect x="424" y="362" width="89" height="1" fill="#ff8606" opacity="0.7"/><rect x="424" y="368" width="89" height="1" fill="#ff8606" opacity="0.7"/><rect x="424" y="376" width="89" height="1" fill="#ff8d1c" opacity="0.7"/><rect x="424" y="381" width="89" height="1" fill="#ff8d1c" opacity="0.7"/><polygon points="445.9,351.3 445.9,351.3 445.9,349.7 445.9,349.7 446.5,349.7 446.5,347.5 447.2,347.5 447.6,347.5 447.6,345.7 448.1,345.7 448.9,345.7 448.9,343.5 449.7,343.5 450.0,343.5 450.0,340.7 450.3,340.7 451.4,340.7 451.4,338.5 452.5,338.5 453.8,338.5 453.8,336.9 455.0,336.9 456.1,336.9 456.1,334.7 457.2,334.7 458.3,334.7 458.3,335.3 459.4,335.3 460.6,335.3 460.6,333.5 461.9,333.5 463.4,333.5 463.4,331.9 465.0,331.9 465.9,331.9 465.9,331.3 466.9,331.3 468.1,331.3 468.1,332.5 469.4,332.5 470.4,332.5 470.4,332.2 471.3,332.2 472.2,332.2 472.2,330.6 473.2,330.6 474.1,330.6 474.1,330.6 475.0,330.6 476.1,330.6 476.1,330.6 477.2,330.6 478.1,330.6 478.1,330.3 479.1,330.3 479.2,330.3 479.2,332.2 479.4,332.2 480.9,332.2 480.9,332.8 482.5,332.8 483.8,332.8 483.8,333.8 485.0,333.8 486.0,333.8 486.0,334.1 486.9,334.1 487.9,334.1 487.9,334.4 488.8,334.4 489.8,334.4 489.8,336.6 490.7,336.6 491.9,336.6 491.9,337.5 493.2,337.5 493.2,337.5 493.2,340.0 493.2,340.0 494.4,340.0 494.4,341.6 495.7,341.6 495.5,341.6 495.5,345.0 495.4,345.0 496.3,345.0 496.3,346.6 497.2,346.6 497.2,346.6 497.2,349.6 497.1,349.6 497.2,349.6 497.2,352.0 497.2,352.0 497.2,352.0 497.2,354.3 497.2,354.3 496.4,354.3 496.4,356.8 495.7,356.8 495.0,356.8 495.0,359.9 494.4,359.9 493.9,359.9 493.9,363.0 493.5,363.0 492.1,363.0 492.1,364.9 490.7,364.9 489.4,364.9 489.4,367.4 488.2,367.4 487.2,367.4 487.2,366.5 486.3,366.5 485.4,366.5 485.4,369.0 484.4,369.0 483.1,369.0 483.1,369.3 481.9,369.3 480.6,369.3 480.6,371.2 479.4,371.2 477.9,371.2 477.9,370.2 476.3,370.2 475.2,370.2 475.2,369.9 474.1,369.9 473.0,369.9 473.0,369.9 472.0,369.9 471.0,369.9 471.0,369.9 470.0,369.9 468.4,369.9 468.4,370.2 466.9,370.2 465.6,370.2 465.6,369.0 464.4,369.0 462.9,369.0 462.9,368.0 461.3,368.0 459.8,368.0 459.8,366.5 458.2,366.5 456.6,366.5 456.6,364.9 455.0,364.9 453.8,364.9 453.8,363.0 452.5,363.0 451.7,363.0 451.7,361.3 450.8,361.3 450.1,361.3 450.1,359.9 449.4,359.9 448.6,359.9 448.6,357.4 447.8,357.4 446.7,357.4 446.7,354.9 445.6,354.9 446.0,354.9 446.0,353.0 446.3,353.0 446.1,353.0 446.1,350.5 445.9,350.5" fill="#ff991a" stroke="#000" stroke-width="1.05" stroke-linejoin="miter"/><circle cx="452.5" cy="363" r="1.9" fill="#000"/><circle cx="458.8" cy="357.7" r="0.9" fill="#000"/></g><rect x="424.5" y="315.5" width="88" height="70" fill="none" stroke="#262626" stroke-width="1"/><path d="M441.1,316v1.3M441.1,385v-1.3M468.5,316v1.3M468.5,385v-1.3M495.9,316v1.3M495.9,385v-1.3M425,328.5h1.3M512,328.5h-1.3M425,350.5h1.3M512,350.5h-1.3M425,372.5h1.3M512,372.5h-1.3" stroke="#1a1a1a" stroke-width="1" fill="none"/><text x="419.55" y="333.75" font-size="14" fill="#000" text-anchor="end">-0.1</text><text x="419.55" y="355.75" font-size="14" fill="#000" text-anchor="end">0</text><text x="419.55" y="377.75" font-size="14" fill="#000" text-anchor="end">0.1</text><text x="440.6" y="405.0" font-size="14" fill="#000" text-anchor="middle">-0.1</text><text x="468.0" y="405.0" font-size="14" fill="#000" text-anchor="middle">0</text><text x="495.3" y="405.0" font-size="14" fill="#000" text-anchor="middle">0.1</text><text x="457.5" y="301.7" font-size="14.67" font-weight="bold" fill="#000" class="n">T</text><text x="467.0" y="309.4" font-size="11.5" font-weight="bold" fill="#000" class="n">zz</text><text x="468.5" y="426.1" font-size="15.5" fill="#000" text-anchor="middle">x (km)</text><text x="0" y="0" transform="translate(388.9,350.5) rotate(-90)" font-size="15.5" fill="#000" text-anchor="middle">y (km)</text><rect x="522" y="315" width="14" height="71" fill="url(#jet)"/><rect x="522.5" y="315.5" width="13" height="70" fill="none" stroke="#1a1a1a" stroke-width="1"/><path d="M535,334.5h-1.3M535,359.2h-1.3M535,383.0h-1.3" stroke="#000" stroke-width="1"/><text x="540.0" y="339.3" font-size="14" fill="#000">0</text><text x="540.0" y="364.0" font-size="14" fill="#000">-10</text><text x="540.0" y="387.8" font-size="14" fill="#000">-20</text><text x="529.0" y="307.7" font-size="14.67" fill="#000" text-anchor="middle">%</text><text x="536.0" y="406.8" font-size="16" fill="#4a4a4a" class="n">×</text><text x="545.5" y="404.0" font-size="12.7" fill="#000">10</text><text x="558.1" y="397.6" font-size="9.6" fill="#000">-8</text></svg>
</body></html>
